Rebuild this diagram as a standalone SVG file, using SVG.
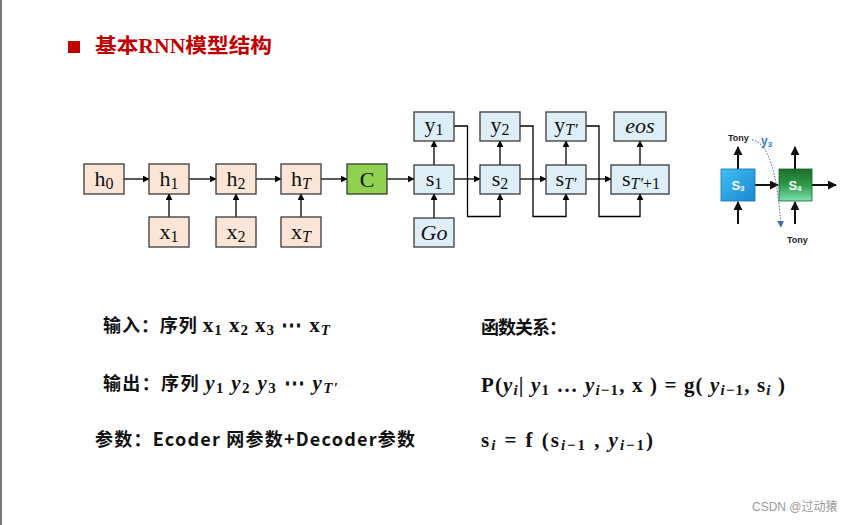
<svg xmlns="http://www.w3.org/2000/svg" width="868" height="525" viewBox="0 0 868 525">
<defs>
<marker id="ah" viewBox="0 0 10 10" refX="9" refY="5" markerWidth="7" markerHeight="7" markerUnits="userSpaceOnUse" orient="auto"><path d="M0,0 L10,5 L0,10 z" fill="#000"/></marker>
<marker id="ah2" viewBox="0 0 10 10" refX="9" refY="5" markerWidth="9" markerHeight="9" markerUnits="userSpaceOnUse" orient="auto"><path d="M0,0 L10,5 L0,10 z" fill="#111"/></marker>
<marker id="ah3" viewBox="0 0 10 10" refX="9" refY="5" markerWidth="7" markerHeight="7" markerUnits="userSpaceOnUse" orient="auto"><path d="M0,0 L10,5 L0,10 z" fill="#3a6fb0"/></marker>
<linearGradient id="gb" x1="0" y1="0" x2="1" y2="1"><stop offset="0" stop-color="#3fc0f0"/><stop offset="1" stop-color="#1b86d6"/></linearGradient>
<linearGradient id="gg" x1="0" y1="0" x2="0" y2="1"><stop offset="0" stop-color="#1c6e2a"/><stop offset="0.5" stop-color="#2f9a4a"/><stop offset="1" stop-color="#7fe3b4"/></linearGradient>
<style>
.hb{fill:#fbe5d6;stroke:#3a3a3a;stroke-width:1.3}
.sb{fill:#ddeef6;stroke:#3a3a3a;stroke-width:1.3}
.cb{fill:#92d050;stroke:#3a3a3a;stroke-width:1.3}
.lb{font-family:"Liberation Serif","DejaVu Serif",serif;font-size:22px;fill:#111;text-anchor:middle}
.it{font-style:italic}
.ln{fill:none;stroke:#000;stroke-width:1.3}
.cn{font-family:"Noto Sans CJK SC","Liberation Sans",sans-serif;font-weight:bold;font-size:18px;fill:#111}
.mt{font-family:"Liberation Serif","DejaVu Serif",serif;font-weight:bold;font-size:21px;fill:#111}
</style>
</defs>
<rect width="868" height="525" fill="#fff"/>
<rect x="0" y="0" width="2" height="525" fill="#777"/>

<g id="title">
<rect x="68" y="41" width="12" height="12" fill="#c00000"/>
<text x="95" y="53" font-family="Noto Sans CJK SC,Liberation Serif,sans-serif" font-weight="bold" font-size="20.5" fill="#c00000" textLength="177" lengthAdjust="spacingAndGlyphs">基本<tspan font-family="Liberation Serif,serif">RNN</tspan>模型结构</text>
</g>

<g id="connectors">
<line class="ln" x1="124" y1="179" x2="149" y2="179" marker-end="url(#ah)"/>
<line class="ln" x1="189" y1="179" x2="216" y2="179" marker-end="url(#ah)"/>
<line class="ln" x1="256" y1="179" x2="281" y2="179" marker-end="url(#ah)"/>
<line class="ln" x1="321" y1="179" x2="347" y2="179" marker-end="url(#ah)"/>
<line class="ln" x1="387" y1="179" x2="414" y2="179" marker-end="url(#ah)"/>
<line class="ln" x1="169" y1="217" x2="169" y2="194" marker-end="url(#ah)"/>
<line class="ln" x1="236" y1="217" x2="236" y2="194" marker-end="url(#ah)"/>
<line class="ln" x1="301" y1="217" x2="301" y2="194" marker-end="url(#ah)"/>
<line class="ln" x1="454" y1="179" x2="480" y2="179" marker-end="url(#ah)"/>
<line class="ln" x1="520" y1="179" x2="546" y2="179" marker-end="url(#ah)"/>
<line class="ln" x1="586" y1="179" x2="611" y2="179" marker-end="url(#ah)"/>
<line class="ln" x1="434" y1="218" x2="434" y2="194" marker-end="url(#ah)"/>
<line class="ln" x1="434" y1="165" x2="434" y2="141" marker-end="url(#ah)"/>
<line class="ln" x1="500" y1="165" x2="500" y2="141" marker-end="url(#ah)"/>
<line class="ln" x1="566" y1="165" x2="566" y2="141" marker-end="url(#ah)"/>
<line class="ln" x1="640" y1="165" x2="640" y2="141" marker-end="url(#ah)"/>
<polyline class="ln" points="454,126 467.5,126 467.5,216.5 500,216.5 500,194" marker-end="url(#ah)"/>
<polyline class="ln" points="520,126 533,126 533,216.5 566,216.5 566,194" marker-end="url(#ah)"/>
<polyline class="ln" points="586,126 599,126 599,216.5 640,216.5 640,194" marker-end="url(#ah)"/>
</g>

<g id="h0"><rect class="hb" x="84" y="164" width="40" height="30"/><text class="lb" x="104" y="186">h<tspan font-size="16" dy="3">0</tspan></text></g>
<g id="h1"><rect class="hb" x="149" y="164" width="40" height="30"/><text class="lb" x="169" y="186">h<tspan font-size="16" dy="3">1</tspan></text></g>
<g id="h2"><rect class="hb" x="216" y="164" width="40" height="30"/><text class="lb" x="236" y="186">h<tspan font-size="16" dy="3">2</tspan></text></g>
<g id="hT"><rect class="hb" x="281" y="164" width="40" height="30"/><text class="lb" x="301" y="186">h<tspan font-size="16" dy="3" class="it">T</tspan></text></g>
<g id="C"><rect class="cb" x="347" y="164" width="40" height="30"/><text class="lb" x="367" y="187">C</text></g>
<g id="x1"><rect class="hb" x="149" y="217" width="40" height="30"/><text class="lb" x="169" y="239">x<tspan font-size="16" dy="3">1</tspan></text></g>
<g id="x2"><rect class="hb" x="216" y="217" width="40" height="30"/><text class="lb" x="236" y="239">x<tspan font-size="16" dy="3">2</tspan></text></g>
<g id="xT"><rect class="hb" x="281" y="217" width="40" height="30"/><text class="lb" x="301" y="239">x<tspan font-size="16" dy="3" class="it">T</tspan></text></g>

<g id="s1"><rect class="sb" x="414" y="165" width="40" height="29"/><text class="lb" x="434" y="186">s<tspan font-size="16" dy="3">1</tspan></text></g>
<g id="s2"><rect class="sb" x="480" y="165" width="40" height="29"/><text class="lb" x="500" y="186">s<tspan font-size="16" dy="3">2</tspan></text></g>
<g id="sT"><rect class="sb" x="546" y="165" width="40" height="29"/><text class="lb" x="566" y="186">s<tspan font-size="16" dy="3" class="it">T′</tspan></text></g>
<g id="sT1"><rect class="sb" x="611" y="165" width="58" height="29"/><text class="lb" x="641" y="186">s<tspan font-size="16" dy="3"><tspan class="it">T′</tspan>+1</tspan></text></g>
<g id="y1"><rect class="sb" x="414" y="112" width="40" height="29"/><text class="lb" x="434" y="132">y<tspan font-size="16" dy="3">1</tspan></text></g>
<g id="y2"><rect class="sb" x="480" y="112" width="40" height="29"/><text class="lb" x="500" y="132">y<tspan font-size="16" dy="3">2</tspan></text></g>
<g id="yT"><rect class="sb" x="546" y="112" width="40" height="29"/><text class="lb" x="566" y="132">y<tspan font-size="16" dy="3" class="it">T′</tspan></text></g>
<g id="eos"><rect class="sb" x="614" y="112" width="52" height="29"/><text class="lb it" x="640" y="133">eos</text></g>
<g id="Go"><rect class="sb" x="414" y="218" width="40" height="29"/><text class="lb it" x="434" y="240">Go</text></g>

<g id="inset">
<line x1="755" y1="185" x2="778" y2="185" stroke="#111" stroke-width="2" marker-end="url(#ah2)"/>
<line x1="812" y1="185" x2="836" y2="185" stroke="#111" stroke-width="2" marker-end="url(#ah2)"/>
<line x1="738" y1="169" x2="738" y2="147" stroke="#111" stroke-width="2" marker-end="url(#ah2)"/>
<line x1="795" y1="169" x2="795" y2="147" stroke="#111" stroke-width="2" marker-end="url(#ah2)"/>
<line x1="738" y1="224" x2="738" y2="202" stroke="#111" stroke-width="2" marker-end="url(#ah2)"/>
<line x1="795" y1="224" x2="795" y2="202" stroke="#111" stroke-width="2" marker-end="url(#ah2)"/>
<g id="S3"><rect x="721" y="169" width="34" height="32" fill="url(#gb)" stroke="#1a6fb0" stroke-width="0.8"/><text x="738" y="190" font-family="Liberation Sans,sans-serif" font-weight="bold" font-size="13" fill="#fff" text-anchor="middle">S<tspan font-size="8" dy="1">3</tspan></text></g>
<g id="S4"><rect x="779" y="169" width="33" height="32" fill="url(#gg)" stroke="#1c5e28" stroke-width="0.8"/><text x="795" y="190" font-family="Liberation Sans,sans-serif" font-weight="bold" font-size="13" fill="#fff" text-anchor="middle">S<tspan font-size="8" dy="1">4</tspan></text></g>
<path d="M752,140 C770,142 778,180 781,227" fill="none" stroke="#3a6fb0" stroke-width="1" stroke-dasharray="1.5,1.5" marker-end="url(#ah3)"/>
<text x="728" y="141" font-family="Liberation Sans,sans-serif" font-weight="bold" font-size="9" fill="#222">Tony</text>
<text x="761" y="145" font-family="Liberation Sans,sans-serif" font-weight="bold" font-size="12" fill="#2f7ec8">y<tspan font-size="8" dy="2">3</tspan></text>
<text x="787" y="243" font-family="Liberation Sans,sans-serif" font-weight="bold" font-size="9" fill="#222">Tony</text>
</g>

<g id="texts">
<text class="cn" x="103" y="332" textLength="227" lengthAdjust="spacing">输入：序列 <tspan class="mt" font-size="20">x<tspan font-size="15" dy="3">1</tspan><tspan dy="-3"> x</tspan><tspan font-size="15" dy="3">2</tspan><tspan dy="-3"> x</tspan><tspan font-size="15" dy="3">3</tspan><tspan dy="-3"> ⋯ x</tspan><tspan font-size="15" dy="3" font-style="italic">T</tspan></tspan></text>
<text class="cn" x="103" y="390" textLength="235" lengthAdjust="spacing">输出：序列 <tspan class="mt" font-size="20" font-style="italic"> y<tspan font-size="15" font-style="normal" dy="3">1</tspan><tspan dy="-3"> y</tspan><tspan font-size="15" font-style="normal" dy="3">2</tspan><tspan dy="-3"> y</tspan><tspan font-size="15" font-style="normal" dy="3">3</tspan><tspan dy="-3" font-style="normal"> ⋯ </tspan><tspan>y</tspan><tspan font-size="15" dy="3">T′</tspan></tspan></text>
<text class="cn" x="95" y="446" font-size="19" textLength="320" lengthAdjust="spacing">参数：Ecoder 网参数+Decoder参数</text>
<text class="cn" x="481" y="334" textLength="86" lengthAdjust="spacing">函数关系：</text>
<text class="mt" x="481" y="392" textLength="304" lengthAdjust="spacing">P(<tspan font-style="italic">y<tspan font-size="15" dy="3">i</tspan></tspan><tspan dy="-3">| </tspan><tspan font-style="italic">y</tspan><tspan font-size="15" dy="3">1</tspan><tspan dy="-3"> … </tspan><tspan font-style="italic">y</tspan><tspan font-size="15" dy="3"><tspan font-style="italic">i</tspan>−1</tspan><tspan dy="-3">, x ) = g(  </tspan><tspan font-style="italic">y</tspan><tspan font-size="15" dy="3"><tspan font-style="italic">i</tspan>−1</tspan><tspan dy="-3">, s</tspan><tspan font-size="15" dy="3" font-style="italic">i</tspan><tspan dy="-3"> )</tspan></text>
<text class="mt" x="481" y="447" textLength="172" lengthAdjust="spacing">s<tspan font-size="15" dy="3" font-style="italic">i</tspan><tspan dy="-3"> = f (s</tspan><tspan font-size="15" dy="3"><tspan font-style="italic">i</tspan>−1</tspan><tspan dy="-3">   , </tspan><tspan font-style="italic">y</tspan><tspan font-size="15" dy="3"><tspan font-style="italic">i</tspan>−1</tspan><tspan dy="-3">)</tspan></text>
<text x="752" y="511" font-family="Liberation Sans,Noto Sans CJK SC,sans-serif" font-size="12" fill="#999">CSDN @过动猿</text>
</g>
</svg>
